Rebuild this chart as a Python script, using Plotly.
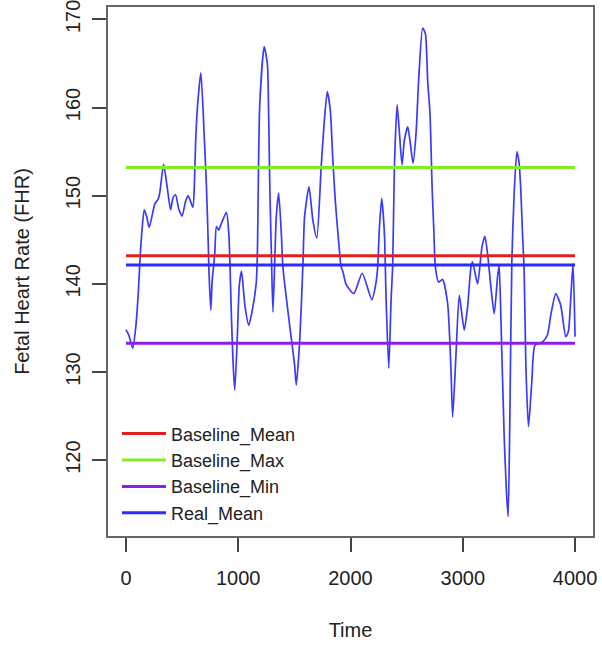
import plotly.graph_objects as go

# ---- data ----
time = [0, 25, 60, 89, 110, 124, 141, 163, 185, 207, 258, 287, 302, 335, 367, 397, 420, 442,
        470, 500, 530, 554, 596, 610, 620, 637, 667, 696, 717, 732, 740, 756, 767, 791, 806,
        827, 850, 895, 916, 927, 940, 955, 969, 990, 1010, 1029, 1060, 1093, 1125, 1161, 1171,
        1191, 1231, 1259, 1271, 1280, 1295, 1309, 1324, 1339, 1360, 1384, 1398, 1458, 1502,
        1517, 1547, 1576, 1591, 1630, 1665, 1700, 1739, 1763, 1793, 1820, 1843, 1864, 1893,
        1917, 1932, 1962, 2030, 2104, 2190, 2228, 2243, 2258, 2278, 2302, 2317, 2341, 2362,
        2376, 2391, 2415, 2436, 2459, 2480, 2510, 2533, 2557, 2584, 2607, 2643, 2667, 2687,
        2708, 2728, 2741, 2756, 2785, 2820, 2865, 2895, 2910, 2940, 2969, 3013, 3043, 3073,
        3087, 3132, 3171, 3197, 3221, 3250, 3280, 3310, 3324, 3340, 3369, 3390, 3404, 3419,
        3437, 3458, 3482, 3502, 3517, 3532, 3547, 3562, 3585, 3615, 3644, 3710, 3754, 3784,
        3828, 3872, 3917, 3940, 3962, 3982, 4000]
fhr = [134.8, 134.2, 132.7, 135.3, 139.0, 142.5, 145.8, 148.4, 147.6, 146.4, 149.1, 149.6, 150.4,
       153.55, 151.0, 148.4, 149.8, 150.1, 148.5, 147.7, 149.3, 150.0, 148.7, 151.5, 155.9,
       160.1, 163.94, 157.1, 151.0, 145.0, 141.2, 137.0, 140.2, 143.45, 146.5, 146.1, 146.85,
       148.1, 145.7, 141.9, 136.0, 130.8, 127.95, 133.4, 139.9, 141.45, 137.5, 135.3, 137.0,
       140.2, 143.8, 160.1, 166.9, 165.0, 159.3, 151.8, 143.5, 136.8, 142.1, 147.6, 150.3,
       145.7, 141.9, 135.3, 130.8, 128.5, 133.4, 142.1, 147.6, 151.0, 147.2, 145.2, 153.3,
       157.8, 161.8, 159.7, 154.0, 149.5, 145.0, 141.9, 141.4, 139.9, 138.9, 141.2, 138.2,
       140.2, 142.1, 146.5, 149.7, 145.7, 138.35, 130.4, 138.35, 142.1, 153.3, 160.3, 157.1,
       153.5, 156.3, 157.8, 155.9, 153.7, 157.1, 163.1, 169.0, 168.4, 163.1, 159.3, 150.5,
       146.5, 141.9, 140.2, 140.5, 137.8, 130.2, 124.9, 132.1, 138.7, 134.75, 137.4, 141.9,
       142.5, 140.0, 144.2, 145.4, 143.4, 139.7, 136.6, 140.8, 142.1, 135.9, 122.6, 116.2,
       113.6, 124.5, 142.5, 150.3, 155.0, 153.7, 150.6, 145.7, 141.4, 130.8, 123.8, 128.9,
       133.05, 133.4, 134.2, 136.45, 138.9, 137.6, 134.0, 134.55, 138.35, 142.3, 134.0]

ref_names = ["Baseline_Mean", "Baseline_Max", "Baseline_Min", "Real_Mean"]
ref_values = [143.2, 153.2, 133.25, 142.15]
ref_colors = ["#E02020", "#80EE22", "#8A1EEE", "#2B2BFF"]
line_span = [0, 4000]

x_ticks = [0, 1000, 2000, 3000, 4000]
y_ticks = [120, 130, 140, 150, 160, 170]

FONT = "Liberation Sans, Arial, Helvetica, sans-serif"
TXT = "#222222"

fig = go.Figure()
fig.add_trace(go.Scatter(x=time, y=fhr, mode="lines", showlegend=False,
                         line=dict(color="#3A3AFF", width=1.7, shape="spline", smoothing=0.6)))
for name, val, col in zip(ref_names, ref_values, ref_colors):
    fig.add_trace(go.Scatter(x=line_span, y=[val, val], mode="lines", name=name,
                             line=dict(color=col, width=3)))

axis_common = dict(showgrid=False, zeroline=False, showline=True, mirror=True,
                   linecolor="#666666", linewidth=1.5, ticks="outside", ticklen=14,
                   tickcolor="#444444", tickwidth=1.5, ticklabeloverflow="allow",
                   tickfont=dict(family=FONT, size=20, color=TXT))

fig.update_layout(
    width=602, height=647,
    margin=dict(l=108, r=9, t=7, b=111, autoexpand=False),
    paper_bgcolor="white", plot_bgcolor="white",
    font=dict(family=FONT, size=20, color=TXT),
    xaxis=dict(range=[-160, 4160], tickvals=x_ticks, automargin=False, ticklabelstandoff=9,
               title=dict(text="Time", standoff=35, font=dict(family=FONT, size=20, color=TXT)),
               **axis_common),
    yaxis=dict(range=[111.4, 171.4], tickvals=y_ticks, tickangle=-90, automargin=False,
               ticklabelstandoff=4,
               title=dict(text="Fetal Heart Rate (FHR)", standoff=27,
                          font=dict(family=FONT, size=20, color=TXT)),
               **axis_common),
    legend=dict(x=0.0185, y=0.228, xanchor="left", yanchor="top", bgcolor="rgba(0,0,0,0)",
                font=dict(family=FONT, size=18, color=TXT), itemwidth=44,
                tracegroupgap=0),
    showlegend=True,
)

fig.write_html("out.html", config={"displayModeBar": False},
               post_script="document.body.style.margin='0px';")
